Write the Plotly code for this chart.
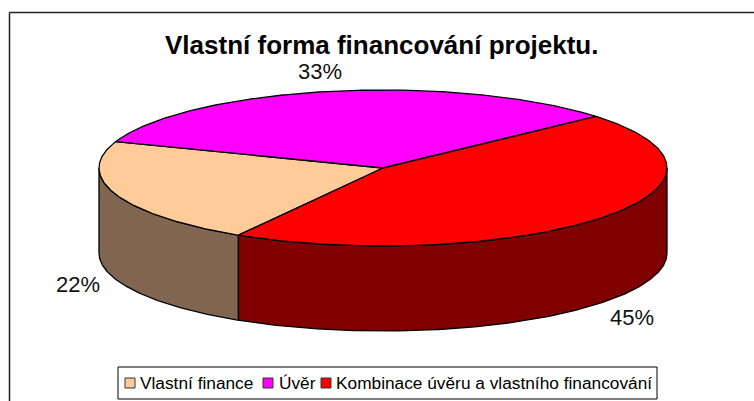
import numpy as np
import plotly.graph_objects as go

categories = ["Vlastní finance", "Úvěr", "Kombinace úvěru a vlastního financování"]
values = [22, 33, 45]
colors = ["#FFCC99", "#FF00FF", "#FF0000"]
wall_colors = ["#806650", "#800080", "#800000"]
title = "Vlastní forma financování projektu."

# pixel-space layout of the tilted disc
W, H = 754, 401
CX, CY, RX, RY, DEPTH = 383, 168, 284, 78, 85
START = 210.6
LABEL_POS = [(78, 286), (320, 73), (632, 319)]
LEGEND_BOX = (118, 367, 657, 399)
LEGEND_SWATCH_X = [125, 263, 321]
LEGEND_TEXT_X = [138, 277, 334]
LINE = dict(color="black", width=1.3)


def arc(t0, t1, dy=0.0):
    t = np.radians(np.linspace(t0, t1, max(int(abs(t1 - t0)) * 2, 2)))
    return CX + RX * np.sin(t), CY - RY * np.cos(t) + dy


fig = go.Figure()
total = sum(values)
angle = START
spans = []
for v in values:
    spans.append((angle, angle + 360 * v / total))
    angle += 360 * v / total

# walls: only the front half of the disc (90..270 deg, plus its +360 repeat)
for (a0, a1), wc in zip(spans, wall_colors):
    for lo, hi in ((90, 270), (450, 630)):
        s, e = max(a0, lo), min(a1, hi)
        if e > s:
            x1, y1 = arc(s, e)
            x2, y2 = arc(e, s, DEPTH)
            fig.add_trace(go.Scatter(x=np.r_[x1, x2, x1[0]], y=np.r_[y1, y2, y1[0]], mode="lines",
                                     fill="toself", fillcolor=wc, line=LINE, hoverinfo="skip", showlegend=False))
# top faces
for (a0, a1), c, name in zip(spans, colors, categories):
    x1, y1 = arc(a0, a1)
    fig.add_trace(go.Scatter(x=np.r_[CX, x1, CX], y=np.r_[CY, y1, CY], mode="lines", name=name,
                             fill="toself", fillcolor=c, line=LINE, showlegend=False))

# percentage labels
fig.add_trace(go.Scatter(x=[p[0] for p in LABEL_POS], y=[p[1] for p in LABEL_POS], mode="text",
                         text=[f"{round(100 * v / total)}%" for v in values],
                         textfont=dict(family="Liberation Sans", size=22, color="#111"),
                         hoverinfo="skip", showlegend=False))

shapes = [
    dict(type="line", xref="x", yref="y", x0=9.5, x1=9.5, y0=12.5, y1=H, line=dict(color="#222", width=1.5)),
    dict(type="line", xref="x", yref="y", x0=9.5, x1=W, y0=12.5, y1=12.5, line=dict(color="#222", width=1.5)),
    dict(type="rect", xref="x", yref="y", x0=LEGEND_BOX[0], y0=LEGEND_BOX[1], x1=LEGEND_BOX[2], y1=LEGEND_BOX[3],
         line=dict(color="black", width=1), fillcolor="white", layer="below"),
]
annotations = [dict(x=381, y=45, xref="x", yref="y", text=f"<b>{title}</b>", showarrow=False,
                    font=dict(family="Liberation Sans", size=26, color="black"))]
for name, c, sx, tx in zip(categories, colors, LEGEND_SWATCH_X, LEGEND_TEXT_X):
    shapes.append(dict(type="rect", xref="x", yref="y", x0=sx, x1=sx + 10, y0=378, y1=388,
                       line=dict(color="#333", width=1), fillcolor=c))
    annotations.append(dict(x=tx, y=382.5, xref="x", yref="y", xanchor="left", text=name, showarrow=False,
                            font=dict(family="Liberation Sans", size=17.3, color="black")))

fig.update_layout(
    width=W, height=H, margin=dict(l=0, r=0, t=0, b=0), autosize=False,
    paper_bgcolor="white", plot_bgcolor="white", showlegend=False,
    xaxis=dict(range=[0, W], visible=False, fixedrange=True),
    yaxis=dict(range=[H, 0], visible=False, fixedrange=True),
    shapes=shapes, annotations=annotations,
)
fig.write_html("out.html", config=dict(displayModeBar=False),
               post_script="document.body.style.margin='0';document.body.style.overflow='hidden';")
